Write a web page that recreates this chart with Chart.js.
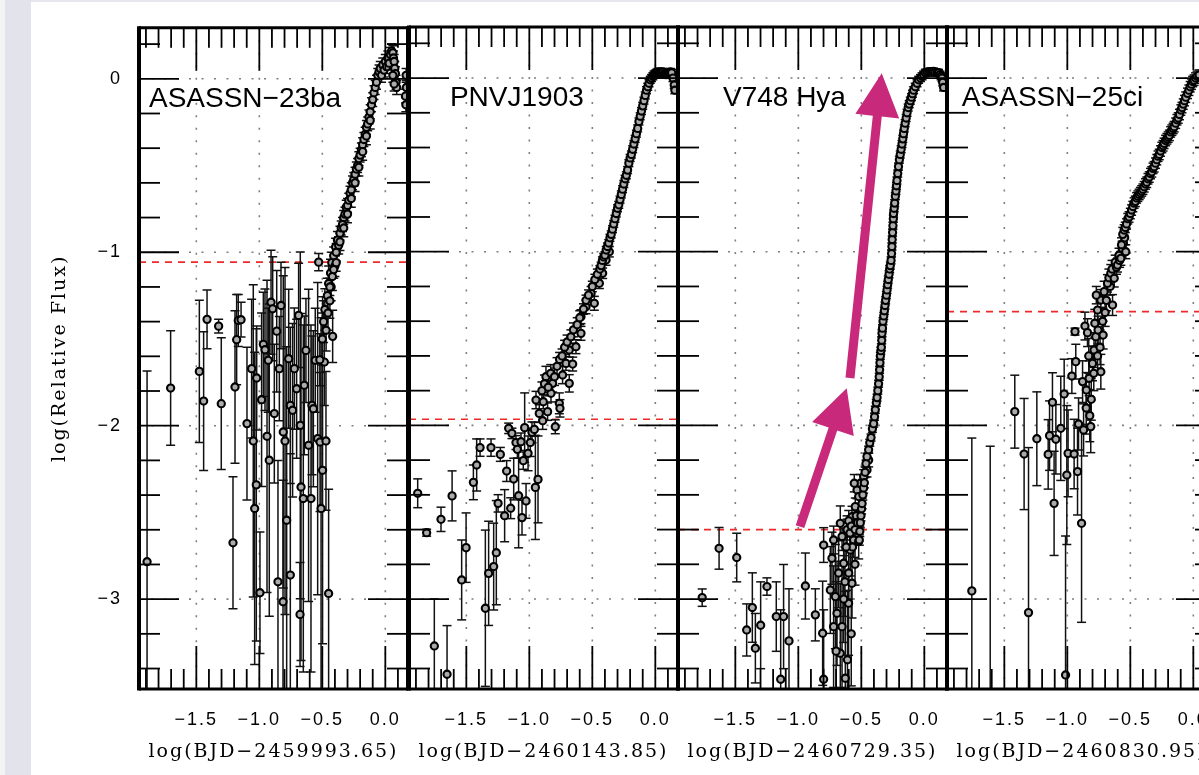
<!DOCTYPE html>
<html><head><meta charset="utf-8">
<script src="https://cdn.jsdelivr.net/npm/chart.js@4/dist/chart.umd.min.js"></script>
<style>
html,body{margin:0;padding:0;width:1199px;height:775px;overflow:hidden;background:#fff;}
#s1{position:absolute;left:0;top:0;width:5px;height:775px;background:#f3f3f6;}
#s2{position:absolute;left:5px;top:0;width:26px;height:775px;background:#e2e3eb;}
#s3{position:absolute;left:31px;top:0;width:1168px;height:2px;background:#e6e7ee;}
canvas{position:absolute;left:0;top:0;}
</style></head><body>
<div id="s1"></div><div id="s2"></div><div id="s3"></div>
<canvas id="c0" width="1240" height="775"></canvas>
<canvas id="c1" width="1240" height="775"></canvas>
<canvas id="c2" width="1240" height="775"></canvas>
<canvas id="c3" width="1240" height="775"></canvas>
<script>
// ---------------- DATA ----------------
const panelNames = ['ASASSN\u221223ba', 'PNVJ1903', 'V748 Hya', 'ASASSN\u221225ci'];
const xTitles = ['log(BJD\u22122459993.65)', 'log(BJD\u22122460143.85)', 'log(BJD\u22122460729.35)', 'log(BJD\u22122460830.95)'];
const yTitle = 'log(Relative Flux)';
const labelX = [-1.876, -1.63, -1.598, -1.837];
const labelY = -0.161;
const thresholds = [-1.057, -1.965, -2.60, -1.345];
const xRange = [-1.955, 0.18];
const yRange = [-3.518, 0.294];
const xMajorTicks = [-1.5, -1.0, -0.5, 0.0];
const yMajorTicks = [-3, -2, -1, 0];
// arrows drawn in panel 3 (V748 Hya): [x1,y1,x2,y2] in data units
const arrowsV748 = [[-0.987, -2.583, -0.616, -1.786], [-0.590, -1.727, -0.338, 0.027]];

// [log time, log flux, error]
const asassn23ba = [
[-1.891,-2.784,1.10],[-1.704,-1.783,0.33],[-1.476,-1.687,0.41],[-1.442,-1.858,0.40],[-1.415,-1.387,0.17],
[-1.323,-1.426,0.04],[-1.302,-1.873,0.38],[-1.209,-2.675,0.38],[-1.193,-1.777,0.44],[-1.180,-1.504,0.26],
[-1.167,-1.393,0.15],[-1.145,-1.389,0.10],[-1.098,-1.988,0.44],[-1.061,-1.671,0.40],[-1.048,-2.088,0.90],
[-1.037,-2.477,0.90],[-1.024,-2.341,0.90],[-1.021,-1.725,0.30],[-0.995,-2.963,0.35],[-0.982,-1.850,0.50],
[-0.968,-1.531,0.30],[-0.955,-1.562,0.35],[-0.939,-2.061,0.90],[-0.929,-1.623,0.30],[-0.921,-2.199,0.90],
[-0.907,-1.288,0.30],[-0.894,-1.326,0.30],[-0.881,-1.930,0.40],[-0.862,-1.455,0.35],[-0.852,-2.900,0.70],
[-0.841,-1.671,0.30],[-0.828,-1.307,0.25],[-0.812,-3.015,0.70],[-0.810,-2.036,0.90],[-0.796,-2.088,1.00],
[-0.783,-2.545,1.00],[-0.767,-1.614,0.40],[-0.754,-1.883,0.45],[-0.754,-2.861,0.70],[-0.736,-1.911,0.50],
[-0.722,-1.671,0.35],[-0.704,-1.787,0.40],[-0.688,-1.364,0.30],[-0.677,-3.088,0.30],[-0.675,-1.998,1.00],
[-0.669,-2.353,1.00],[-0.651,-2.420,1.00],[-0.643,-1.767,0.40],[-0.630,-1.566,0.30],[-0.609,-2.113,0.90],
[-0.590,-2.420,1.00],[-0.582,-1.883,0.40],[-0.571,-1.902,0.45],[-0.556,-1.623,0.30],[-0.537,-2.074,0.90],
[-0.518,-2.094,0.40],[-0.510,-2.477,1.10],[-0.498,-2.257,1.00],[-0.484,-1.633,0.25],[-0.471,-2.088,0.40],
[-0.450,-2.967,0.60],[-0.418,-1.485,0.15],[-0.529,-1.057,0.05],
[-0.52,-1.62,0.15],[-0.50,-1.50,0.15],[-0.49,-1.40,0.12],[-0.48,-1.33,0.12],[-0.47,-1.45,0.12],
[-0.46,-1.25,0.10],[-0.455,-1.35,0.10],[-0.45,-1.18,0.10],[-0.44,-1.28,0.10],[-0.435,-1.12,0.08],
[-0.43,-1.20,0.08],[-0.425,-1.06,0.06],[-0.42,-1.14,0.08],[-0.41,-1.02,0.05],[-0.40,-1.08,0.06],
[-0.395,-0.97,0.05],[-0.39,-1.00,0.05],[-0.38,-0.93,0.05],[-0.37,-0.96,0.05],[-0.36,-0.89,0.04],
[-0.35,-0.86,0.04],[-0.34,-0.84,0.04],[-0.33,-0.80,0.04],[-0.32,-0.78,0.04],[-0.31,-0.74,0.04],
[-0.30,-0.73,0.04],[-0.29,-0.70,0.04],[-0.28,-0.66,0.04],[-0.27,-0.64,0.04],[-0.26,-0.60,0.04],
[-0.25,-0.58,0.04],[-0.24,-0.55,0.04],[-0.23,-0.52,0.04],[-0.22,-0.50,0.04],[-0.21,-0.46,0.04],
[-0.20,-0.44,0.04],[-0.19,-0.41,0.04],[-0.18,-0.38,0.04],[-0.17,-0.35,0.04],[-0.16,-0.32,0.04],
[-0.15,-0.28,0.04],[-0.14,-0.26,0.04],[-0.13,-0.22,0.04],[-0.12,-0.19,0.04],[-0.11,-0.15,0.04],
[-0.10,-0.12,0.04],[-0.09,-0.08,0.04],[-0.08,-0.05,0.04],[-0.07,-0.02,0.04],[-0.06,0.02,0.04],
[-0.05,0.04,0.04],[-0.04,0.06,0.04],[-0.03,0.02,0.04],[-0.02,0.08,0.04],[-0.01,0.05,0.04],
[0.00,0.10,0.04],[0.01,0.07,0.04],[0.02,0.12,0.04],[0.03,0.09,0.04],[0.04,0.14,0.04],
[0.05,0.16,0.04],[0.06,0.15,0.04],[0.065,0.12,0.04],[0.07,0.10,0.04],[0.075,0.06,0.04],
[0.08,0.03,0.04],[0.085,-0.02,0.04],[0.09,-0.05,0.04],[0.06,0.02,0.04],[0.07,-0.03,0.04],
[0.16,-0.10,0.04],[0.163,-0.15,0.04],[0.165,0.02,0.04],[0.167,-0.05,0.04],
[-0.33,-0.86,0.05],[-0.30,-0.78,0.05],[-0.27,-0.69,0.05],[-0.24,-0.60,0.05],[-0.21,-0.51,0.05],
[-0.18,-0.42,0.05],[-0.15,-0.33,0.05],[-0.12,-0.24,0.05],[-0.36,-0.94,0.05],[-0.39,-1.06,0.05],
[-0.41,-1.10,0.05],[-0.44,-1.20,0.05]
];

const pnvj1903 = [
[-1.886,-2.391,0.083],[-1.815,-2.618,0.02],[-1.754,-3.27,0.27],[-1.701,-2.541,0.07],[-1.653,-3.433,0.28],
[-1.613,-2.406,0.144],[-1.537,-2.89,0.23],[-1.502,-2.704,0.2],[-1.444,-2.328,0.1],[-1.418,-2.228,0.15],
[-1.391,-2.128,0.05],[-1.349,-3.053,0.45],[-1.323,-2.852,0.3],[-1.304,-2.128,0.05],[-1.283,-2.813,0.25],
[-1.262,-2.733,0.3],[-1.248,-2.449,0.05],[-1.230,-2.167,0.04],[-1.196,-2.520,0.15],[-1.180,-2.263,0.06],
[-1.164,-2.017,0.03],[-1.148,-2.477,0.06],[-1.138,-2.046,0.03],[-1.124,-2.309,0.12],[-1.106,-2.099,0.04],
[-1.095,-2.138,0.05],[-1.085,-2.405,0.3],[-1.066,-2.094,0.05],[-1.058,-2.531,0.1],[-1.048,-2.203,0.05],
[-1.037,-2.013,0.2],[-1.026,-2.435,0.1],[-1.010,-2.161,0.1],[-0.992,-2.099,0.08],[-0.979,-2.040,0.06],
[-0.960,-2.023,0.04],[-0.952,-2.357,0.3],[-0.931,-2.311,0.25],
[-0.947,-1.854,0.05],[-0.921,-1.931,0.05],[-0.894,-1.973,0.05],[-0.889,-1.864,0.04],[-0.868,-1.72,0.06],
[-0.855,-1.921,0.05],[-0.828,-1.815,0.05],[-0.815,-1.758,0.05],[-0.794,-2.008,0.04],[-0.762,-1.873,0.06],
[-0.757,-1.902,0.05],[-0.736,-1.71,0.05],[-0.709,-1.643,0.04],[-0.683,-1.758,0.05],[-0.656,-1.647,0.04],
[-0.683,-1.566,0.04],[-0.630,-1.547,0.04],[-0.590,-1.470,0.04],[-0.590,-1.374,0.04],[-0.550,-1.317,0.04],
[-0.510,-1.240,0.04],[-0.484,-1.297,0.04],[-0.444,-1.182,0.03],[-0.418,-1.124,0.03],[-0.391,-1.048,0.03],
[-0.365,-1.0,0.03],
[-0.90,-1.80,0.05],[-0.88,-1.76,0.05],[-0.85,-1.78,0.05],[-0.83,-1.70,0.05],[-0.80,-1.72,0.05],
[-0.78,-1.66,0.05],[-0.76,-1.62,0.04],[-0.74,-1.60,0.04],[-0.72,-1.55,0.04],[-0.70,-1.52,0.04],
[-0.67,-1.49,0.04],[-0.65,-1.45,0.04],[-0.62,-1.42,0.04],[-0.60,-1.38,0.04],[-0.57,-1.33,0.03],
[-0.55,-1.28,0.03],[-0.53,-1.25,0.03],[-0.50,-1.20,0.03],[-0.48,-1.16,0.03],[-0.46,-1.13,0.03],
[-0.44,-1.10,0.02],[-0.43,-1.08,0.02],[-0.42,-1.05,0.02],[-0.41,-1.03,0.02],[-0.40,-1.02,0.02],
[-0.39,-0.99,0.02],[-0.38,-0.97,0.02],[-0.37,-0.95,0.02],[-0.36,-0.92,0.02],[-0.35,-0.90,0.02],
[-0.34,-0.87,0.02],[-0.33,-0.84,0.02],[-0.32,-0.81,0.02],[-0.31,-0.78,0.02],[-0.30,-0.75,0.02],
[-0.29,-0.73,0.02],[-0.28,-0.70,0.02],[-0.27,-0.67,0.02],[-0.26,-0.64,0.02],[-0.25,-0.61,0.02],
[-0.24,-0.58,0.02],[-0.23,-0.56,0.02],[-0.22,-0.53,0.02],[-0.21,-0.49,0.02],[-0.20,-0.46,0.02],
[-0.19,-0.44,0.02],[-0.18,-0.41,0.02],[-0.17,-0.38,0.02],[-0.16,-0.35,0.02],[-0.15,-0.32,0.02],
[-0.14,-0.29,0.02],[-0.13,-0.25,0.02],[-0.12,-0.22,0.02],[-0.11,-0.19,0.02],[-0.10,-0.16,0.02],
[-0.09,-0.13,0.02],[-0.08,-0.10,0.02],[-0.07,-0.07,0.02],[-0.06,-0.05,0.02],[-0.05,-0.03,0.02],
[-0.04,-0.01,0.02],[-0.03,0.00,0.02],[-0.02,0.01,0.02],[-0.01,0.02,0.02],[0.00,0.025,0.02],
[0.01,0.03,0.02],[0.02,0.035,0.02],[0.03,0.03,0.02],[0.04,0.035,0.02],[0.05,0.03,0.02],
[0.06,0.035,0.02],[0.07,0.025,0.02],[0.08,0.02,0.02],[0.09,0.02,0.02],[0.10,0.025,0.02],
[0.11,0.03,0.02],[0.12,0.035,0.02],[0.13,0.03,0.02],[0.14,0.0,0.02],[0.15,-0.04,0.02],
[0.155,-0.07,0.02]
];

const v748hya = [
[-1.763,-2.992,0.05],[-1.629,-2.708,0.12],[-1.489,-2.761,0.14],[-1.41,-3.178,0.15],[-1.365,-3.049,0.2],
[-1.341,-3.283,0.2],[-1.299,-3.151,0.25],[-1.249,-2.928,0.05],[-1.175,-3.101,0.2],[-1.140,-3.462,0.4],
[-1.117,-3.101,0.3],[-1.074,-3.241,0.3],[-0.944,-2.925,0.19],[-0.865,-3.091,0.15],
[-0.799,-2.689,0.1],[-0.807,-3.197,0.3],[-0.799,-3.462,0.4],[-0.733,-2.765,0.15],[-0.706,-2.986,0.3],
[-0.693,-3.082,0.3],[-0.667,-3.312,0.4],[-0.640,-2.794,0.2],[-0.627,-3.456,0.5],[-0.613,-2.621,0.1],
[-0.601,-3.024,0.3],[-0.587,-2.717,0.15],[-0.574,-2.909,0.2],[-0.561,-2.66,0.1],[-0.521,-2.669,0.1],
[-0.667,-2.564,0.1],[-0.653,-3.159,0.35],[-0.720,-3.159,0.35],[-0.746,-2.948,0.25],[-0.72,-2.66,0.08],
[-0.653,-2.64,0.08],[-0.613,-2.6,0.06],[-0.574,-2.526,0.06],[-0.548,-2.468,0.05],[-0.534,-2.372,0.05],
[-0.508,-2.333,0.05],[-0.556,-2.333,0.05],[-0.521,-2.41,0.05],[-0.481,-2.295,0.04],[-0.455,-2.257,0.04],
[-0.442,-2.199,0.04],
[-0.60,-2.55,0.06],[-0.59,-2.62,0.08],[-0.58,-2.58,0.06],[-0.57,-2.70,0.1],[-0.55,-2.60,0.06],
[-0.54,-2.52,0.05],[-0.53,-2.56,0.06],[-0.62,-2.70,0.1],[-0.63,-2.90,0.2],[-0.60,-2.85,0.15],
[-0.58,-3.20,0.3],[-0.55,-2.80,0.12],[-0.64,-3.00,0.25],[-0.68,-2.85,0.2],[-0.70,-3.30,0.4],
[-0.61,-3.35,0.4],
[-0.516,-2.66,0.03],[-0.512,-2.61,0.03],[-0.508,-2.56,0.03],[-0.503,-2.52,0.03],[-0.498,-2.48,0.03],
[-0.494,-2.45,0.03],[-0.488,-2.40,0.03],[-0.482,-2.36,0.03],[-0.476,-2.33,0.03],[-0.470,-2.27,0.03],
[-0.463,-2.22,0.02],[-0.455,-2.18,0.02],[-0.442,-2.14,0.02],[-0.433,-2.10,0.02],[-0.423,-2.07,0.02],
[-0.412,-2.02,0.02],[-0.402,-1.99,0.02],[-0.395,-1.95,0.02],[-0.389,-1.91,0.02],[-0.381,-1.87,0.02],
[-0.375,-1.84,0.02],[-0.369,-1.80,0.02],[-0.363,-1.76,0.02],[-0.358,-1.72,0.02],[-0.355,-1.68,0.02],
[-0.352,-1.64,0.02],[-0.349,-1.60,0.02],[-0.345,-1.57,0.02],[-0.341,-1.55,0.02],[-0.338,-1.51,0.02],
[-0.336,-1.47,0.02],[-0.332,-1.44,0.02],[-0.328,-1.40,0.02],[-0.322,-1.37,0.02],[-0.317,-1.34,0.02],
[-0.312,-1.31,0.02],[-0.307,-1.28,0.02],[-0.301,-1.25,0.02],[-0.296,-1.22,0.02],[-0.291,-1.19,0.02],
[-0.286,-1.16,0.02],[-0.280,-1.13,0.02],[-0.275,-1.10,0.02],[-0.270,-1.08,0.02],[-0.264,-1.05,0.02],
[-0.260,-1.01,0.02],[-0.257,-0.97,0.02],[-0.255,-0.93,0.02],[-0.252,-0.89,0.02],[-0.249,-0.85,0.02],
[-0.246,-0.81,0.02],[-0.244,-0.78,0.02],[-0.239,-0.75,0.02],[-0.235,-0.72,0.02],[-0.230,-0.68,0.02],
[-0.225,-0.65,0.02],[-0.221,-0.62,0.02],[-0.217,-0.59,0.02],[-0.211,-0.55,0.02],[-0.205,-0.51,0.02],
[-0.198,-0.47,0.02],[-0.191,-0.44,0.02],[-0.184,-0.41,0.02],[-0.177,-0.38,0.02],[-0.171,-0.35,0.02],
[-0.165,-0.32,0.02],[-0.159,-0.29,0.02],[-0.152,-0.26,0.02],[-0.144,-0.23,0.02],[-0.137,-0.20,0.02],
[-0.128,-0.17,0.02],[-0.120,-0.15,0.02],[-0.111,-0.13,0.02],[-0.102,-0.11,0.02],[-0.094,-0.09,0.02],
[-0.085,-0.07,0.02],[-0.072,-0.05,0.02],[-0.058,-0.03,0.02],[-0.045,-0.01,0.02],[-0.030,0.00,0.02],
[-0.018,0.01,0.02],[-0.006,0.02,0.02],[0.008,0.03,0.02],[0.022,0.033,0.02],[0.035,0.036,0.02],
[0.048,0.036,0.02],[0.060,0.034,0.02],[0.072,0.038,0.02],[0.085,0.033,0.02],[0.101,0.031,0.02],
[0.113,0.030,0.02],[0.125,0.020,0.02],[0.133,0.010,0.02],[0.140,0.0,0.02],[0.146,-0.025,0.02],
[0.153,-0.054,0.02]
];

const asassn25ci = [
[-1.758,-2.953,0.88],[-1.612,-3.70,1.58],[-1.417,-1.921,0.21],[-1.343,-2.165,0.32],[-1.308,-3.078,0.95],
[-1.242,-2.077,0.27],[-1.152,-2.167,0.2],[-1.141,-2.059,0.2],[-1.118,-1.867,0.17],[-1.105,-2.449,0.3],
[-1.091,-2.08,0.2],[-1.052,-2.017,0.3],[-1.025,-1.819,0.2],[-1.014,-3.437,0.8],[-1.004,-2.286,0.4],
[-0.994,-2.161,0.25],[-0.964,-1.716,0.1],[-0.946,-2.165,0.2],[-0.939,-1.46,0.02],[-0.933,-1.633,0.1],
[-0.919,-2.266,0.25],[-0.911,-1.992,0.15],[-0.887,-2.564,0.57],[-0.879,-1.748,0.12],[-0.871,-2.026,0.15],
[-0.860,-1.428,0.08],[-0.849,-1.796,0.1],[-0.840,-1.466,0.08],[-0.827,-1.729,0.1],[-0.822,-1.944,0.15],
[-0.814,-2.007,0.15],[-0.800,-1.643,0.1],[-0.788,-1.566,0.1],[-0.782,-1.412,0.08],[-0.774,-1.489,0.08],
[-0.760,-1.336,0.08],[-0.756,-1.451,0.08],[-0.734,-1.278,0.06],[-0.734,-1.691,0.1],[-0.716,-1.48,0.08],
[-0.708,-1.230,0.06],[-0.641,-1.307,0.06],
[-0.70,-1.35,0.08],[-0.72,-1.40,0.08],[-0.74,-1.55,0.1],[-0.76,-1.60,0.1],[-0.79,-1.70,0.1],
[-0.81,-1.85,0.12],[-0.83,-1.60,0.1],[-0.85,-1.90,0.15],[-0.69,-1.28,0.06],[-0.66,-1.20,0.05],
[-0.77,-1.25,0.05],
[-0.681,-1.182,0.05],[-0.670,-1.15,0.05],[-0.655,-1.124,0.05],[-0.645,-1.10,0.05],[-0.628,-1.153,0.05],
[-0.620,-1.06,0.04],[-0.610,-1.09,0.04],[-0.602,-1.077,0.04],[-0.590,-1.02,0.04],[-0.585,-1.05,0.04],
[-0.575,-1.038,0.04],[-0.565,-0.98,0.04],[-0.555,-0.95,0.04],[-0.545,-0.92,0.04],[-0.536,-1.0,0.04],
[-0.56,-0.90,0.04],[-0.57,-0.96,0.04],
[-0.549,-0.875,0.03],[-0.540,-0.86,0.03],[-0.530,-0.84,0.03],[-0.520,-0.81,0.03],[-0.510,-0.80,0.03],
[-0.500,-0.78,0.03],[-0.490,-0.76,0.03],[-0.480,-0.74,0.03],[-0.470,-0.72,0.03],[-0.460,-0.71,0.03],
[-0.450,-0.69,0.03],[-0.440,-0.68,0.03],[-0.430,-0.67,0.03],[-0.420,-0.66,0.03],[-0.410,-0.65,0.03],
[-0.400,-0.64,0.03],[-0.390,-0.626,0.03],[-0.380,-0.61,0.03],[-0.370,-0.60,0.03],[-0.360,-0.58,0.03],
[-0.350,-0.57,0.03],[-0.340,-0.55,0.03],[-0.330,-0.54,0.03],[-0.320,-0.52,0.03],[-0.311,-0.511,0.03],
[-0.300,-0.49,0.03],[-0.290,-0.47,0.03],[-0.280,-0.45,0.03],[-0.270,-0.44,0.03],[-0.260,-0.42,0.03],
[-0.250,-0.40,0.03],[-0.240,-0.39,0.03],[-0.232,-0.376,0.03],[-0.220,-0.36,0.03],[-0.210,-0.35,0.03],
[-0.200,-0.34,0.03],[-0.190,-0.33,0.03],[-0.180,-0.31,0.03],[-0.170,-0.30,0.03],[-0.160,-0.29,0.03],
[-0.152,-0.28,0.03],[-0.140,-0.26,0.03],[-0.130,-0.24,0.03],[-0.120,-0.23,0.03],[-0.110,-0.21,0.03],
[-0.099,-0.184,0.03],[-0.090,-0.17,0.03],[-0.080,-0.15,0.03],[-0.070,-0.13,0.03],[-0.060,-0.11,0.03],
[-0.046,-0.088,0.03],[-0.035,-0.07,0.03],[-0.025,-0.05,0.03],[-0.015,-0.035,0.03],[-0.005,-0.02,0.03],
[0.006,-0.012,0.03],[0.018,0.00,0.03],[0.030,0.01,0.03],[0.046,0.017,0.03]
];

const panelData = [asassn23ba, pnvj1903, v748hya, asassn25ci];

// ---------------- LAYOUT (pixels) ----------------
const CW = 1240;
const panelLeft = [139, 409, 678, 947];
const panelW = 269;

function fmtX(v){ const r = Math.round(v*10)/10; if (Math.abs(r) < 1e-9) return '0.0'; return (r < 0 ? '\u2212' : '') + Math.abs(r).toFixed(1); }
function fmtY(v){ const r = Math.round(v); if (r === 0) return '0'; return (r < 0 ? '\u2212' : '') + Math.abs(r); }
function seg(ctx, x1, y1, x2, y2){ ctx.beginPath(); ctx.moveTo(x1, y1); ctx.lineTo(x2, y2); ctx.stroke(); }
function arrow(ctx, x1, y1, x2, y2, sw, hl, hw){
  const dx = x2-x1, dy = y2-y1, L = Math.hypot(dx, dy), ux = dx/L, uy = dy/L, nx = -uy, ny = ux;
  const bx = x2-ux*hl, by = y2-uy*hl;
  ctx.beginPath();
  ctx.moveTo(x1+nx*sw/2, y1+ny*sw/2);
  ctx.lineTo(bx+nx*sw/2, by+ny*sw/2);
  ctx.lineTo(bx+nx*hw, by+ny*hw);
  ctx.lineTo(x2, y2);
  ctx.lineTo(bx-nx*hw, by-ny*hw);
  ctx.lineTo(bx-nx*sw/2, by-ny*sw/2);
  ctx.lineTo(x1-nx*sw/2, y1-ny*sw/2);
  ctx.closePath(); ctx.fill();
}

function panelPlugin(i){
  return {
    id: 'panelDeco' + i,
    beforeDraw(chart){ chart.ctx.letterSpacing = '2px'; },
    beforeDatasetsDraw(chart){
      const {ctx, chartArea: a, scales: {x, y}} = chart;
      ctx.save();
      ctx.beginPath(); ctx.rect(a.left, a.top, a.right-a.left, a.bottom-a.top); ctx.clip();
      // dotted grid
      ctx.strokeStyle = '#7f7f7f'; ctx.lineWidth = 1.6; ctx.setLineDash([2, 10.5]);
      xMajorTicks.forEach(v => { const px = x.getPixelForValue(v); seg(ctx, px, a.top, px, a.bottom); });
      yMajorTicks.forEach(v => { const py = y.getPixelForValue(v); seg(ctx, a.left, py, a.right, py); });
      // red threshold
      ctx.strokeStyle = '#ee2a2a'; ctx.lineWidth = 1.6; ctx.setLineDash([7, 6]);
      const ty = y.getPixelForValue(thresholds[i]); seg(ctx, a.left, ty, a.right, ty);
      // error bars
      ctx.setLineDash([]); ctx.strokeStyle = '#111'; ctx.lineWidth = 1.5;
      const meta = chart.getDatasetMeta(0);
      const ds = chart.data.datasets[0].data;
      meta.data.forEach((el, k) => {
        const d = ds[k];
        const px = el.x, y1 = y.getPixelForValue(d.y + d.e), y2 = y.getPixelForValue(d.y - d.e);
        seg(ctx, px, y1, px, y2);
        seg(ctx, px-4.5, y1, px+4.5, y1);
        seg(ctx, px-4.5, y2, px+4.5, y2);
      });
      ctx.restore();
    },
    afterDatasetsDraw(chart){
      const {ctx, chartArea: a, scales: {x, y}} = chart;
      ctx.save();
      ctx.letterSpacing = '0px';
      // arrows
      if (i === 2){
        ctx.fillStyle = '#c8297b';
        arrowsV748.forEach(r => arrow(ctx, x.getPixelForValue(r[0]), y.getPixelForValue(r[1]), x.getPixelForValue(r[2]), y.getPixelForValue(r[3]), 9, 43, 22));
      }
      // ticks inward
      ctx.strokeStyle = '#000'; ctx.lineWidth = 1.8; ctx.setLineDash([]);
      for (let k = Math.ceil(xRange[0]*10); k <= Math.floor(xRange[1]*10); k++){
        const px = x.getPixelForValue(k/10);
        const len = (k % 5 === 0) ? 43 : 20;
        seg(ctx, px, a.top, px, a.top + len);
        seg(ctx, px, a.bottom, px, a.bottom - len);
      }
      for (let k = Math.ceil(yRange[0]*5); k <= Math.floor(yRange[1]*5); k++){
        const py = y.getPixelForValue(k/5);
        const len = (k % 5 === 0) ? 40 : 21;
        seg(ctx, a.left, py, a.left + len, py);
        seg(ctx, a.right, py, a.right - len, py);
      }
      // frame
      ctx.lineWidth = 3;
      seg(ctx, a.left, a.top, a.right, a.top);
      seg(ctx, a.left, a.bottom, a.right, a.bottom);
      ctx.lineWidth = 4;
      seg(ctx, a.left, a.top - 1.5, a.left, a.bottom + 1.5);
      seg(ctx, a.right, a.top - 1.5, a.right, a.bottom + 1.5);
      // panel label
      ctx.fillStyle = '#000';
      ctx.font = '28px "Liberation Sans", Arial, sans-serif';
      ctx.textAlign = 'left'; ctx.textBaseline = 'alphabetic';
      ctx.fillText(panelNames[i], x.getPixelForValue(labelX[i]), y.getPixelForValue(labelY));
      ctx.restore();
    }
  };
}

function makePanel(i){
  const pts = panelData[i].map(r => ({x: r[0], y: r[1], e: r[2]}));
  const leftPad = i === 0 ? panelLeft[0] - 90 : panelLeft[i];
  return new Chart(document.getElementById('c' + i), {
    type: 'scatter',
    data: { datasets: [{ data: pts, pointRadius: 3.6, pointHoverRadius: 3.6,
      pointBackgroundColor: '#ababab', pointBorderColor: '#000', pointBorderWidth: 2.1 }] },
    options: {
      responsive: false, animation: false, events: [],
      layout: { padding: { left: leftPad, right: CW - (panelLeft[i] + panelW), top: 27, bottom: 12 } },
      plugins: { legend: { display: false }, tooltip: { enabled: false } },
      scales: {
        x: { type: 'linear', position: 'bottom', min: xRange[0], max: xRange[1],
          grid: { display: false, drawTicks: false }, border: { display: false },
          ticks: { stepSize: 0.5, includeBounds: false, autoSkip: false, maxRotation: 0, padding: 20,
            color: '#000', font: { family: '"Liberation Sans", Arial, sans-serif', size: 18 }, callback: fmtX },
          title: { display: true, text: xTitles[i], color: '#000', padding: { top: 0, bottom: 0 },
            font: { family: '"DejaVu Serif", serif', size: 19 } },
          afterFit(s){ s.height = 74; } },
        y: { type: 'linear', position: 'left', min: yRange[0], max: yRange[1], display: i === 0,
          grid: { display: false, drawTicks: false }, border: { display: false },
          ticks: { stepSize: 1, includeBounds: false, autoSkip: false, padding: 17,
            color: '#000', font: { family: '"Liberation Sans", Arial, sans-serif', size: 18 }, callback: fmtY },
          title: { display: i === 0, text: yTitle, color: '#000', padding: { top: 0, bottom: 0 },
            font: { family: '"DejaVu Serif", serif', size: 19 } },
          afterFit(s){ s.width = (i === 0) ? 90 : 0; } }
      }
    },
    plugins: [panelPlugin(i)]
  });
}
[0, 1, 2, 3].forEach(makePanel);
</script>
</body></html>
